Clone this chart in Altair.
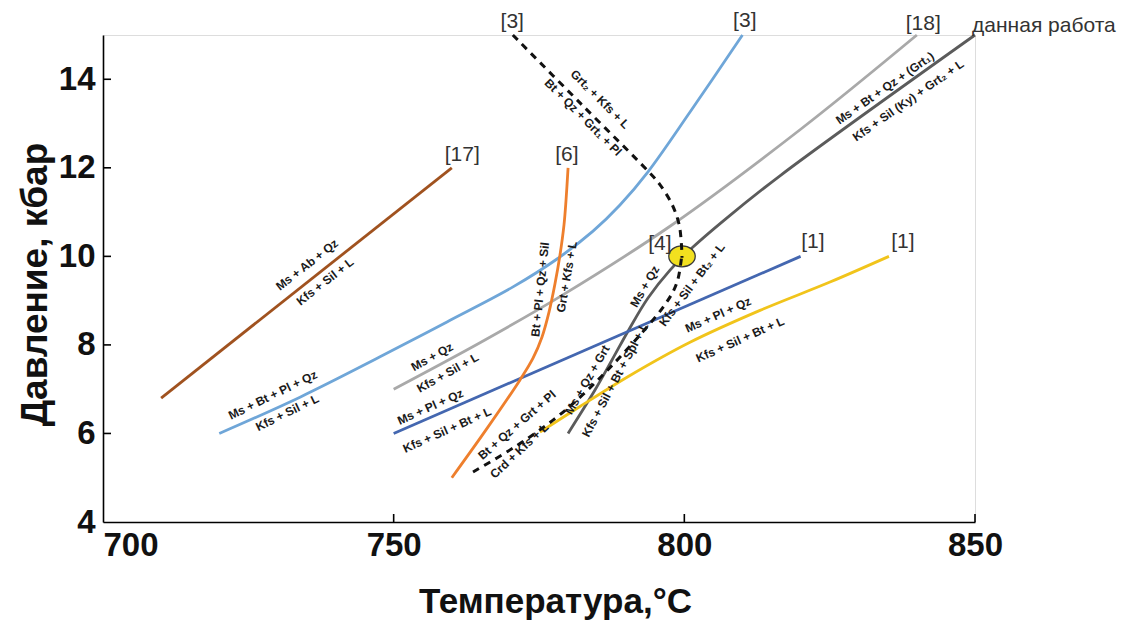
import altair as alt
import pandas as pd

# ---------------- data (T in °C, P in kbar) ----------------
brown_T = [710, 760]
brown_P = [6.8, 12.0]

lblue_T = [720, 733.89, 747.65, 759.17, 770.53, 778.10, 784.29, 788.93, 793.75, 800.98, 810]
lblue_P = [6.0, 6.82, 7.73, 8.52, 9.31, 9.94, 10.57, 11.16, 11.91, 13.26, 15.0]

gray_T = [750, 764.85, 778.61, 797.54, 819.9, 840]
gray_P = [7.0, 8.05, 9.09, 10.68, 12.86, 15.0]

dark_T = [780.0, 784.63, 787.56, 790.31, 793.75, 797.54, 801.49, 807.34, 816.45, 850]
dark_P = [6.0, 6.98, 7.66, 8.31, 9.06, 9.69, 10.21, 10.87, 11.82, 15.0]

dblue_T = [750, 820]
dblue_P = [6.0, 10.0]

yellow_T = [775.17, 782.05, 790.65, 800.98, 813.02, 825.06, 835.2]
yellow_P = [6.03, 6.61, 7.31, 8.06, 8.78, 9.42, 10.0]

orange_T = [760.0, 765.88, 771.73, 773.97, 775.52, 776.72, 777.75, 778.61, 779.30, 779.65, 780.0]
orange_P = [5.0, 6.08, 7.21, 7.70, 8.18, 8.74, 9.38, 10.03, 10.71, 11.27, 12.0]

dash3_T = [770.5, 782.1, 793.8, 795.8, 797.9, 799.1, 799.5, 799.6]
dash3_P = [15.0, 13.46, 11.92, 11.62, 11.17, 10.72, 10.27, 9.97]

dash4_T = [763.65, 770.53, 777.41, 782.57, 787.73, 792.89, 796.33, 798.05, 798.91, 799.5]
dash4_P = [5.13, 5.67, 6.30, 6.88, 7.56, 8.30, 8.85, 9.20, 9.49, 9.95]

point_T = [799.6]
point_P = [10.0]

# reaction labels
lab_text = [
    "Ms + Ab + Qz", "Kfs + Sil + L",
    "Ms + Bt + Pl + Qz", "Kfs + Sil + L",
    "Ms + Qz", "Kfs + Sil + L",
    "Ms + Pl + Qz", "Kfs + Sil + Bt + L",
    "Ms + Pl + Qz", "Kfs + Sil + Bt + L",
    "Bt + Pl + Qz + Sil", "Grt + Kfs + L",
    "Grt\u2082 + Kfs + L", "Bt + Qz + Grt\u2081 + Pl",
    "Ms + Bt + Qz + (Grt\u2081)", "Kfs + Sil (Ky) + Grt\u2082 + L",
    "Ms + Qz", "Kfs + Sil + Bt\u2082 + L",
    "Ms + Qz + Grt", "Kfs + Sil + Bt + Spl + L",
    "Bt + Qz + Grt + Pl", "Crd + Kfs + L",
]
lab_T = [735.1, 738.2, 729.2, 731.7, 756.6, 759.3, 756.3, 759.2, 805.8, 809.6,
         775.2, 779.8, 785.5, 782.6, 834.5, 838.5, 793.2, 801.3, 783.3, 788.1,
         771.2, 771.6]
lab_P = [9.81, 9.43, 6.87, 6.47, 7.73, 7.37, 6.60, 6.08, 8.68, 8.12,
         9.25, 9.54, 13.55, 13.14, 13.80, 13.52, 9.32, 9.36, 7.21, 7.21,
         6.19, 5.61]
lab_ang = [322, 322, 334, 334, 331, 331, 336, 336, 336, 336,
           276, 280, 45, 45, 325, 325, 300, 307, 300, 298,
           319, 317]

ref_text = ["[3]", "[3]", "[18]", "[17]", "[6]", "[4]", "[1]", "[1]"]
ref_T = [770.4, 810.4, 841.1, 761.8, 779.8, 795.8, 822.1, 837.6]
ref_P = [15.29, 15.31, 15.24, 12.30, 12.30, 10.27, 10.33, 10.33]

work_text = ["данная работа"]
work_T = [849.5]
work_P = [15.2]

xticks = [700, 750, 800, 850]
yticks = [4, 6, 8, 10, 12, 14]
xtick_marks = [750, 800, 850]
ytick_marks = [6, 8, 10, 12, 14]

# ---------------- tables ----------------
solid = [("brown", brown_T, brown_P), ("lblue", lblue_T, lblue_P),
         ("gray", gray_T, gray_P), ("dark", dark_T, dark_P),
         ("dblue", dblue_T, dblue_P), ("yellow", yellow_T, yellow_P),
         ("orange", orange_T, orange_P)]
rows = []
for name, T, P in solid:
    for i, (t, p) in enumerate(zip(T, P)):
        rows.append({"s": name, "T": t, "P": p, "i": i})
df_solid = pd.DataFrame(rows)

rows = []
for name, T, P in [("d3", dash3_T, dash3_P), ("d4", dash4_T, dash4_P)]:
    for i, (t, p) in enumerate(zip(T, P)):
        rows.append({"s": name, "T": t, "P": p, "i": i})
df_dash = pd.DataFrame(rows)

df_pt = pd.DataFrame({"T": point_T, "P": point_P})
df_lab = pd.DataFrame({"T": lab_T, "P": lab_P, "txt": lab_text, "ang": lab_ang})
df_ref = pd.DataFrame({"T": ref_T, "P": ref_P, "txt": ref_text})
df_work = pd.DataFrame({"T": work_T, "P": work_P, "txt": work_text})
df_xt = pd.DataFrame({"T": xtick_marks})
df_yt = pd.DataFrame({"P": ytick_marks})

names = ["brown", "lblue", "gray", "dark", "dblue", "yellow", "orange"]
colors = ["#a0521f", "#6fa6d8", "#a9a9a9", "#5b5b5b", "#4467b0", "#f1c41b", "#ee7f2d"]

W, H = 872, 487
AXFONT = "Liberation Sans, Arial"

xscale = alt.Scale(domain=[700, 850], nice=False, zero=False)
yscale = alt.Scale(domain=[4, 15], nice=False, zero=False)

xaxis = alt.Axis(
    values=xticks, ticks=False, grid=False, domainColor="black", domainWidth=1.6,
    labelFont=AXFONT, labelFontSize=33, labelFontWeight="bold", labelColor="#111",
    labelPadding=7, labelFlush=False,
    labelAlign={"condition": {"test": "datum.value == 700", "value": "left"}, "value": "center"},
    title="Температура,°С", titleFont=AXFONT, titleFontSize=35, titleFontWeight="bold",
    titleColor="#111", titleBaseline="alphabetic", titleX=452, titleY=90, titleAlign="center",
)
yaxis = alt.Axis(
    values=yticks, ticks=False, grid=False, domainColor="black", domainWidth=1.6,
    labelFont=AXFONT, labelFontSize=33, labelFontWeight="bold", labelColor="#111",
    labelPadding=8,
    title="Давление, кбар", titleFont=AXFONT, titleFontSize=37, titleFontWeight="bold",
    titleColor="#111", titleBaseline="alphabetic", titleX=-57, titleY=249, titleAngle=270,
    titleAlign="center",
)

X = alt.X("T:Q", scale=xscale, axis=xaxis)
Y = alt.Y("P:Q", scale=yscale, axis=yaxis)

solid_layer = alt.Chart(df_solid).mark_line(strokeWidth=2.8, interpolate="catmull-rom").encode(
    x=X, y=Y,
    color=alt.Color("s:N", scale=alt.Scale(domain=names, range=colors), legend=None),
    detail="s:N", order="i:Q",
)

ellipse_path = "M -1 0 A 1 0.8 0 1 1 1 0 A 1 0.8 0 1 1 -1 0 Z"
pt_layer = alt.Chart(df_pt).mark_point(
    shape=ellipse_path, size=700, filled=True, fill="#f2e01f", stroke="#3a3a3a",
    strokeWidth=1.3, opacity=1,
).encode(x=X, y=Y)

dash_layer = alt.Chart(df_dash).mark_line(
    strokeWidth=3, strokeDash=[7, 6], color="#111", interpolate="catmull-rom"
).encode(x=X, y=Y, detail="s:N", order="i:Q")

lab_layer = alt.Chart(df_lab).mark_text(
    font="Liberation Sans, Arial", fontSize=12, fontWeight="bold", color="#1a1a1a",
    align="center", baseline="middle",
).encode(x=X, y=Y, text="txt:N", angle=alt.Angle("ang:Q", scale=None))

ref_layer = alt.Chart(df_ref).mark_text(
    font="Liberation Sans, Arial", fontSize=21, color="#333333", align="center", baseline="middle",
).encode(x=X, y=Y, text="txt:N")

work_layer = alt.Chart(df_work).mark_text(
    font="Liberation Sans, Arial", fontSize=21, color="#333333", align="left", baseline="middle",
).encode(x=X, y=Y, text="txt:N")

xt_layer = alt.Chart(df_xt).mark_rule(color="black", strokeWidth=1.6).encode(
    x=X, y=alt.value(H), y2=alt.value(H - 8)
)
yt_layer = alt.Chart(df_yt).mark_rule(color="black", strokeWidth=1.6).encode(
    y=Y, x=alt.value(0), x2=alt.value(8)
)

chart = alt.layer(
    solid_layer, pt_layer, dash_layer, lab_layer, ref_layer, work_layer, xt_layer, yt_layer
).properties(
    width=W, height=H,
    autosize=alt.AutoSizeParams(type="none"),
    padding={"left": 103, "top": 35, "right": 154, "bottom": 98},
).configure_view(stroke=None).configure(background="white")

chart.save("out.html", embed_options={"renderer": "svg", "actions": False})
